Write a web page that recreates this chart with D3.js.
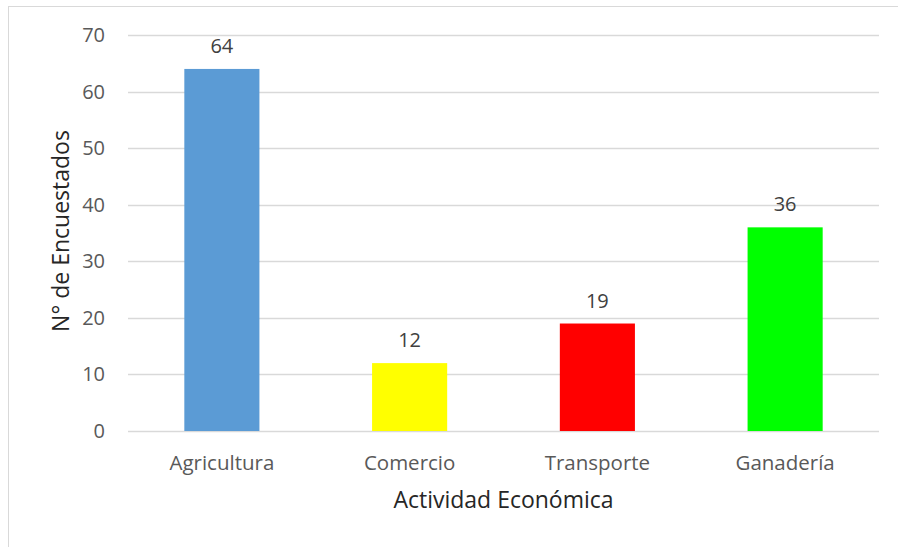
<!DOCTYPE html>
<meta charset="utf-8">
<style>
body { margin: 0; background: #fff; }
text { font-family: "Open Sans", "Noto Sans", sans-serif; }
</style>
<body>
<div id="chart"></div>
<script src="https://d3js.org/d3.v7.min.js"></script>
<script>

var categories = ["Agricultura", "Comercio", "Transporte", "Ganadería"];
var values = [64, 12, 19, 36];
var barColors = ["#5b9bd5", "#ffff00", "#ff0000", "#00ff00"];
var yTicks = [0, 10, 20, 30, 40, 50, 60, 70];

var width = 898, height = 547;
var margin = {top: 35, right: 19, bottom: 116, left: 128};

var svg = d3.select("#chart").append("svg")
    .attr("width", width)
    .attr("height", height);

// chart frame
svg.append("rect")
    .attr("x", 8.5).attr("y", 6.5)
    .attr("width", 900).attr("height", 600)
    .attr("fill", "none")
    .attr("stroke", "#d9d9d9");

var x = d3.scaleBand()
    .domain(categories)
    .range([margin.left, width - margin.right])
    .paddingInner(0.6)
    .paddingOuter(0.3);

var y = d3.scaleLinear()
    .domain([0, 70])
    .range([height - margin.bottom, margin.top]);

// gridlines
svg.append("g")
  .selectAll("line")
  .data(yTicks)
  .enter().append("line")
    .attr("x1", margin.left)
    .attr("x2", width - margin.right)
    .attr("y1", d => Math.round(y(d)) + 0.5)
    .attr("y2", d => Math.round(y(d)) + 0.5)
    .attr("stroke", "#d9d9d9")
    .attr("stroke-width", 1.3);

// y tick labels
svg.append("g")
  .selectAll("text")
  .data(yTicks)
  .enter().append("text")
    .attr("x", 105)
    .attr("y", d => y(d))
    .attr("dy", "0.35em")
    .attr("text-anchor", "end")
    .attr("fill", "#595959")
    .style("font-size", "20px")
    .text(d => d);

// bars
svg.append("g")
  .selectAll("rect")
  .data(values)
  .enter().append("rect")
    .attr("x", (d, i) => x(categories[i]))
    .attr("y", d => y(d))
    .attr("width", x.bandwidth())
    .attr("height", d => y(0) - y(d))
    .attr("fill", (d, i) => barColors[i]);

// value labels
svg.append("g")
  .selectAll("text")
  .data(values)
  .enter().append("text")
    .attr("x", (d, i) => x(categories[i]) + x.bandwidth() / 2)
    .attr("y", d => y(d) - 16)
    .attr("text-anchor", "middle")
    .attr("fill", "#404040")
    .style("font-size", "20px")
    .text(d => d);

// category labels
svg.append("g")
  .selectAll("text")
  .data(categories)
  .enter().append("text")
    .attr("x", d => x(d) + x.bandwidth() / 2)
    .attr("y", 470)
    .attr("text-anchor", "middle")
    .attr("fill", "#595959")
    .style("font-size", "20.5px")
    .text(d => d);

// axis titles
svg.append("text")
    .attr("x", (margin.left + width - margin.right) / 2)
    .attr("y", 508)
    .attr("text-anchor", "middle")
    .attr("fill", "#262626")
    .style("font-size", "23px")
    .text("Actividad Económica");

svg.append("text")
    .attr("transform", "translate(69,231) rotate(-90)")
    .attr("text-anchor", "middle")
    .attr("fill", "#262626")
    .style("font-size", "23px")
    .text("N° de Encuestados");

</script>
</body>
